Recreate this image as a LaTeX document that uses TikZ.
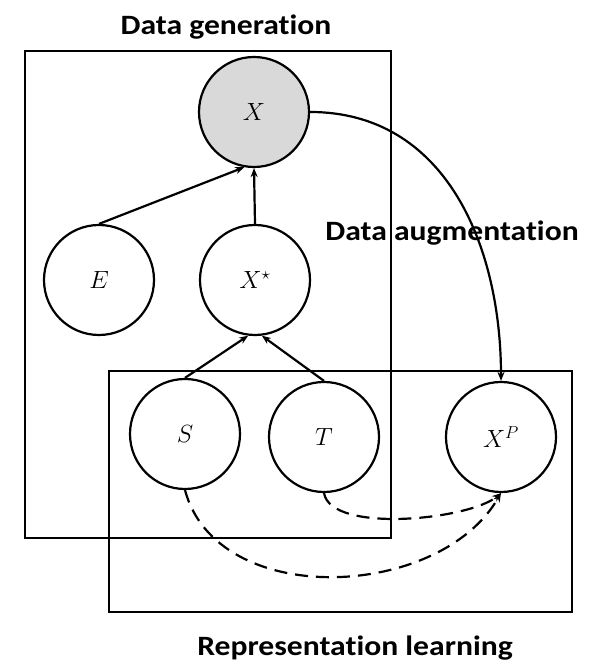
\documentclass[tikz,border=0pt]{standalone}
\usepackage{fontspec}
\setmainfont{Carlito}
\newfontfamily\headfont{Carlito}[FakeStretch=1.13,Ligatures=CommonOff]
\usetikzlibrary{arrows.meta}

\tikzset{
  var/.style={draw,circle,line width=2.2pt,fill=white,minimum size=110pt,
    inner sep=0pt,font=\fontsize{23}{26}\selectfont},
  obs/.style={var,fill=black!15},
  plate/.style={line width=2.6pt},
  title/.style={font=\fontsize{28}{32}\headfont\bfseries},
  dep/.style={line width=2.2pt,-{Stealth[length=9pt,width=7pt]}},
  aug/.style={dep,dash pattern=on 13pt off 8pt},
}

\begin{document}
\begin{tikzpicture}[x=1pt,y=1pt]
      \useasboundingbox (0,0) rectangle (604,666) ;
      % plates
      \draw[plate] (25,615) rectangle (391,128) ;
      \draw[plate] (109,295) rectangle (572,54) ;
      \node[title] (gen) at (226,639) {Data generation} ;
      \node[title] (augm) at (452,433) {Data augmentation} ;
      \node[title] (repr) at (355,18) {Representation learning} ;
      % variables
      \node[obs] (X) at (254,554) {$X$} ;
      \node[var] (E) at (99,386) {$E$} ;
      \node[var] (Xs) at (255,386) {$X^{\star}$} ;
      \node[var] (S) at (185,232) {$S$} ;
      \node[var] (T) at (324,229) {$T$} ;
      \node[var] (XP) at (501,229) {$X^{P}$} ;
      % edges
      \draw[dep] (E.north) -- (X.-100) ;
      \draw[dep] (Xs.north) -- (X.south) ;
      \draw[dep] (S.north) -- (Xs.-97) ;
      \draw[dep] (T.north) -- (Xs.-83) ;
      \draw[dep] (X.east) to[out=0,in=90,looseness=1.05] (XP.north) ;
      \draw[aug] (T.south) to[out=-80,in=-140,looseness=0.6] (XP.south) ;
      \draw[aug] (S.south) to[out=-75,in=-120] (XP.south) ;
    \end{tikzpicture}
\end{document}
